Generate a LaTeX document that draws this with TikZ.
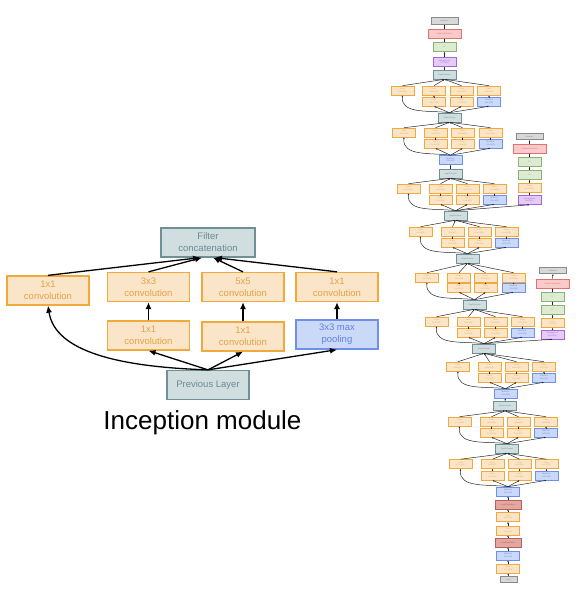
\documentclass[tikz,border=0pt]{standalone}
\usepackage{fontspec}
\setmainfont{Liberation Sans}
\usetikzlibrary{arrows.meta}
\definecolor{orB}{HTML}{F0A93A}
\definecolor{orF}{HTML}{FBE5C9}
\definecolor{orT}{HTML}{E2A445}
\definecolor{blB}{HTML}{6F90EA}
\definecolor{blF}{HTML}{CBD9F9}
\definecolor{blT}{HTML}{5F82E2}
\definecolor{gyB}{HTML}{6F9196}
\definecolor{gyF}{HTML}{D0DEE0}
\definecolor{gyT}{HTML}{6F8A8E}
\definecolor{rdB}{HTML}{E07272}
\definecolor{rdF}{HTML}{F8CACA}
\definecolor{drB}{HTML}{B86060}
\definecolor{drF}{HTML}{E3A6A0}
\definecolor{gnB}{HTML}{8DB276}
\definecolor{gnF}{HTML}{DDEBD3}
\definecolor{puB}{HTML}{A466DA}
\definecolor{puF}{HTML}{E5CCF6}
\definecolor{lgB}{HTML}{8A8A8A}
\definecolor{lgF}{HTML}{D8D8D8}
\newcommand\incp[9]{%
  \node[soc] (#1a) at (#6,#4) {Conv\\1x1+1(S)};
  \node[soc] (#1b) at (#7,#4) {Conv\\3x3+1(S)};
  \node[soc] (#1c) at (#8,#4) {Conv\\5x5+1(S)};
  \node[soc] (#1d) at (#9,#4) {Conv\\1x1+1(S)};
  \node[soc] (#1e) at (#7,#5) {Conv\\1x1+1(S)};
  \node[soc] (#1f) at (#8,#5) {Conv\\1x1+1(S)};
  \node[sbl] (#1g) at (#9,#5) {MaxPool\\3x3+1(S)};
  \draw[sarr] (#1a.north) -- (#3.south);
  \draw[sarr] (#1b.north) -- (#3.south);
  \draw[sarr] (#1c.north) -- (#3.south);
  \draw[sarr] (#1d.north) -- (#3.south);
  \draw[sarr] (#1e.north) -- (#1b.south);
  \draw[sarr] (#1f.north) -- (#1c.south);
  \draw[sarr] (#1g.north) -- (#1d.south);
  \draw[sarr] (#2.north) -- (#1e.south);
  \draw[sarr] (#2.north) -- (#1f.south);
  \draw[sarr] (#2.north) -- (#1g.south);
  \draw[sarr] (#2.north) to[out=172,in=-95] (#1a.south);
}
\begin{document}
\begin{tikzpicture}[x=1pt,y=-1pt,
  bigbox/.style={draw, line width=1.3pt, minimum width=82pt, minimum height=29pt,
    inner sep=0pt, align=center, font=\fontsize{9.5}{12}\selectfont},
  bconv/.style={bigbox, draw=orB, fill=orF, text=orT},
  bpool/.style={bigbox, draw=blB, fill=blF, text=blT},
  bgrey/.style={bigbox, draw=gyB, fill=gyF, text=gyT},
  barrow/.style={-{Latex[length=7pt,width=6pt]}, line width=1.3pt},
  sb/.style={draw, line width=0.6pt, minimum width=23pt, minimum height=9pt,
    inner sep=0pt, align=center, font=\fontsize{2}{2.4}\selectfont},
  soc/.style={sb, draw=orB, fill=orF, text=orT},
  sbl/.style={sb, draw=blB, fill=blF, text=blT},
  sgy/.style={sb, draw=gyB, fill=gyF, text=gyT},
  srd/.style={sb, draw=rdB, fill=rdF, text=rdB, minimum width=33pt},
  sdr/.style={sb, draw=drB, fill=drF, text=drB, minimum width=26pt},
  sgn/.style={sb, draw=gnB, fill=gnF, text=gnB},
  spu/.style={sb, draw=puB, fill=puF, text=puB},
  slg/.style={sb, draw=lgB, fill=lgF, text=lgB, minimum width=27pt, minimum height=6.5pt},
  sarr/.style={-{Latex[length=1.8pt,width=1.6pt]}, line width=0.5pt, draw=black!85}
]
\useasboundingbox (0,0) rectangle (583,592);
% ---------------- Inception module ----------------
\node[bgrey, minimum width=94pt] (fc) at (208,242.5) {Filter\\concatenation};
\node[bconv] (c1) at (48,290.5) {1x1\\convolution};
\node[bconv] (c3) at (148.5,287) {3x3\\convolution};
\node[bconv] (c5) at (243,287) {5x5\\convolution};
\node[bconv] (c1b) at (337,287) {1x1\\convolution};
\node[bconv] (r1) at (148.5,335.5) {1x1\\convolution};
\node[bconv] (r2) at (243,336.5) {1x1\\convolution};
\node[bpool] (mp) at (337,334.5) {3x3 max\\pooling};
\node[bgrey] (prev) at (208,385) {Previous Layer};
\node[font=\fontsize{26}{30}\selectfont, inner sep=0pt] (title) at (202.5,423) {Inception module};
\draw[barrow] (c1.north) -- ([xshift=-8pt]fc.south);
\draw[barrow] (c3.north) -- ([xshift=-6pt]fc.south);
\draw[barrow] (c5.north) -- ([xshift=5pt]fc.south);
\draw[barrow] (c1b.north) -- ([xshift=7pt]fc.south);
\draw[barrow] (r1.north) -- (c3.south);
\draw[barrow] (r2.north) -- (c5.south);
\draw[barrow] (mp.north) -- (c1b.south);
\draw[barrow] (prev.north) -- (r1.south);
\draw[barrow] (prev.north) -- (r2.south);
\draw[barrow] (prev.north) -- (mp.south);
\draw[barrow] (prev.north) .. controls (120,367) and (55,352) .. (c1.south);
% ---------------- GoogLeNet ----------------
% top chain
\node[slg] (sm2) at (444.5,21) {softmax2};
\node[srd] (sa2) at (444.5,33.5) {SoftmaxActivation};
\node[sgn] (fc2) at (444.5,47) {FC};
\node[spu] (ap2) at (444.5,62) {AveragePool\\7x7+1(V)};
\node[sgy] (d5b) at (444.5,74.5) {DepthConcat};
\node[sgy] (d5a) at (449.5,117.5) {DepthConcat};
\node[sbl] (mp4) at (450.5,160) {MaxPool\\3x3+2(S)};
\node[sgy] (d4e) at (450.5,173.5) {DepthConcat};
\node[sgy] (d4d) at (455.5,215.5) {DepthConcat};
\node[sgy] (d4c) at (467.5,258.5) {DepthConcat};
\node[sgy] (d4b) at (474.5,304.5) {DepthConcat};
\node[sgy] (d4a) at (484,348.5) {DepthConcat};
\node[sbl] (mp3) at (505.5,393.5) {MaxPool\\3x3+2(S)};
\node[sgy] (d3b) at (505,406) {DepthConcat};
\node[sgy] (d3a) at (507,448.5) {DepthConcat};
\node[sbl] (mp2) at (508,491.5) {MaxPool\\3x3+2(S)};
\node[sdr] (lrn2) at (508,504.5) {LocalRespNorm};
\node[soc] (cv3) at (508,517) {Conv\\3x3+1(S)};
\node[soc] (cv2) at (508,530.5) {Conv\\1x1+1(V)};
\node[sdr] (lrn1) at (508,542.5) {LocalRespNorm};
\node[sbl] (mp1) at (508,555.5) {MaxPool\\3x3+2(S)};
\node[soc] (cv1) at (508,568.5) {Conv\\7x7+2(S)};
\node[slg, minimum width=17pt] (inp) at (508.5,579.5) {input};
\draw[sarr] (inp.north) -- (cv1.south);
\draw[sarr] (cv1.north) -- (mp1.south);
\draw[sarr] (mp1.north) -- (lrn1.south);
\draw[sarr] (lrn1.north) -- (cv2.south);
\draw[sarr] (cv2.north) -- (cv3.south);
\draw[sarr] (cv3.north) -- (lrn2.south);
\draw[sarr] (lrn2.north) -- (mp2.south);
\draw[sarr] (d3b.north) -- (mp3.south);
\draw[sarr] (d4e.north) -- (mp4.south);
\draw[sarr] (d5b.north) -- (ap2.south);
\draw[sarr] (ap2.north) -- (fc2.south);
\draw[sarr] (fc2.north) -- (sa2.south);
\draw[sarr] (sa2.north) -- (sm2.south);
% inception blocks
\incp{ia}{mp2}{d3a}{464}{475.5}{460.5}{492.5}{519.5}{546.5}
\incp{ib}{d3a}{d3b}{421.5}{432.5}{459.5}{491.5}{518.5}{546}
\incp{ic}{mp3}{d4a}{366.5}{377.5}{458}{489.5}{516.5}{544}
\incp{id}{d4a}{d4b}{321.5}{332.5}{436.5}{468.5}{495.5}{522.5}
\incp{ie}{d4b}{d4c}{277.5}{287.5}{427}{459}{485.5}{513.5}
\incp{ig}{d4c}{d4d}{231.5}{242.5}{420.5}{452.5}{479.5}{506.5}
\incp{ih}{d4d}{d4e}{188.5}{199.5}{408.5}{440.5}{467.5}{494.5}
\incp{ii}{mp4}{d5a}{132.5}{143.5}{404}{435.5}{462.5}{490.5}
\incp{ij}{d5a}{d5b}{90.5}{101.5}{402.5}{434}{461.5}{489}
% auxiliary classifier 1 (upper right)
\node[slg] (sm1) at (529.5,136.5) {softmax1};
\node[srd] (sa1) at (529.5,148.5) {SoftmaxActivation};
\node[sgn] (fb1) at (529.5,162) {FC};
\node[sgn] (fa1) at (529.5,175) {FC};
\node[soc] (ca1) at (529.5,187.5) {Conv\\1x1+1(S)};
\node[spu] (ap1) at (529.5,200) {AveragePool\\5x5+3(V)};
\draw[sarr] (d4d.north) -- (ap1.south);
\draw[sarr] (ap1.north) -- (ca1.south);
\draw[sarr] (ca1.north) -- (fa1.south);
\draw[sarr] (fa1.north) -- (fb1.south);
\draw[sarr] (fb1.north) -- (sa1.south);
\draw[sarr] (sa1.north) -- (sm1.south);
% auxiliary classifier 0
\node[slg] (sm0) at (553,270.5) {softmax0};
\node[srd] (sa0) at (552.5,283.5) {SoftmaxActivation};
\node[sgn] (fb0) at (552.5,296.5) {FC};
\node[sgn] (fa0) at (552.5,310) {FC};
\node[soc] (ca0) at (552.5,323) {Conv\\1x1+1(S)};
\node[spu] (ap0) at (552.5,334.5) {AveragePool\\5x5+3(V)};
\draw[sarr] (d4a.north) -- (ap0.south);
\draw[sarr] (ap0.north) -- (ca0.south);
\draw[sarr] (ca0.north) -- (fa0.south);
\draw[sarr] (fa0.north) -- (fb0.south);
\draw[sarr] (fb0.north) -- (sa0.south);
\draw[sarr] (sa0.north) -- (sm0.south);
\end{tikzpicture}
\end{document}
